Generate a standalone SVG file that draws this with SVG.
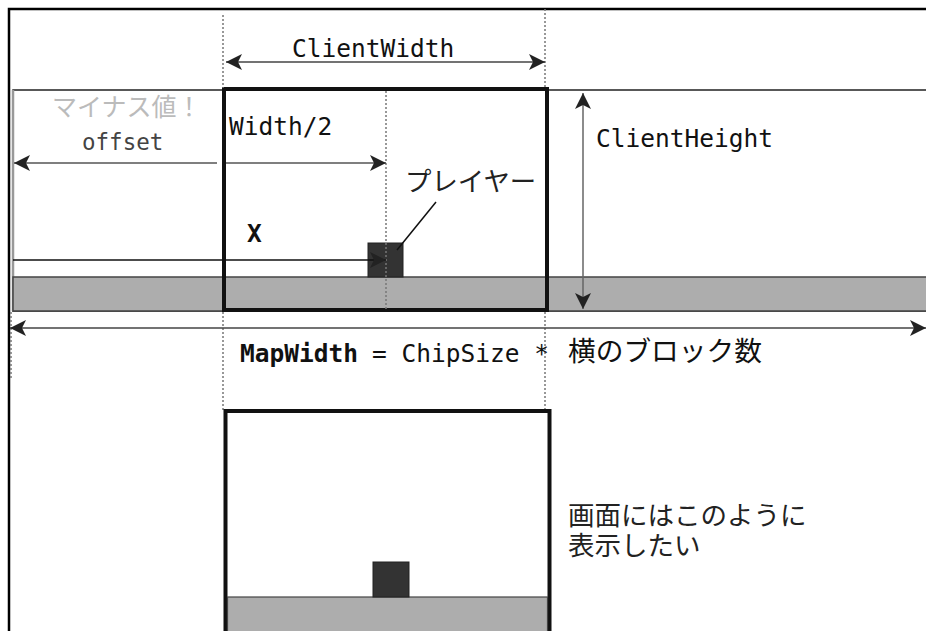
<svg xmlns="http://www.w3.org/2000/svg" width="926" height="631" viewBox="0 0 926 631">
<style>
.mono{font-family:"DejaVu Sans Mono","Noto Sans CJK JP",monospace;font-size:24.5px;fill:#111}
.jp{font-family:"Noto Sans CJK JP",sans-serif;fill:#222}
.note{font-family:"Liberation Sans","Noto Sans CJK JP",sans-serif;font-size:26.5px;fill:#222}
.dot{stroke:#777;stroke-width:1.5;stroke-dasharray:2,2;fill:none}
.arr{stroke-width:1.5;fill:none}
</style>
<defs>
<marker id="ah" markerUnits="userSpaceOnUse" markerWidth="18" markerHeight="18" refX="16" refY="8" orient="auto-start-reverse" viewBox="0 0 18 18">
<path d="M0,0 L16,8 L0,16 L4,8 z" fill="#222"/>
</marker>
</defs>
<rect width="926" height="631" fill="#fff"/>
<g id="frame">
<path d="M9,631 V9 H926" fill="none" stroke="#000" stroke-width="2.5"/>
</g>
<g id="map">
<rect x="13" y="90" width="920" height="221" fill="#fff" stroke="#222" stroke-width="1.5"/>
<line x1="13" y1="90" x2="13" y2="311" stroke="#999" stroke-width="2.5"/>
<rect x="13" y="277" width="920" height="34" fill="#adadad" stroke="#444" stroke-width="1.5"/>
</g>
<g id="player">
<rect x="368" y="243" width="35" height="34" fill="#333" stroke="#222" stroke-width="1"/>
</g>
<g id="client">
<rect x="224" y="89" width="323" height="221" fill="none" stroke="#111" stroke-width="4"/>
</g>
<g id="guides">
<line class="dot" x1="223" y1="15" x2="223" y2="88"/>
<line class="dot" x1="545" y1="9" x2="545" y2="88"/>
<line class="dot" x1="223" y1="312" x2="223" y2="410"/>
<line class="dot" x1="545" y1="312" x2="545" y2="410"/>
<line class="dot" x1="11" y1="312" x2="11" y2="380"/>
<line class="dot" x1="386" y1="91" x2="386" y2="310"/>
</g>
<g id="connectors">
<line class="arr" stroke="#444" x1="226" y1="62" x2="545" y2="62" marker-start="url(#ah)" marker-end="url(#ah)"/>
<line class="arr" stroke="#555" x1="226" y1="163" x2="386" y2="163" marker-end="url(#ah)"/>
<line class="arr" stroke="#555" x1="217" y1="163" x2="14" y2="163" marker-end="url(#ah)"/>
<line class="arr" stroke="#111" x1="13" y1="260" x2="386" y2="260" marker-end="url(#ah)"/>
<line class="arr" stroke="#666" x1="583" y1="93" x2="583" y2="309" marker-start="url(#ah)" marker-end="url(#ah)"/>
<line class="arr" stroke="#444" x1="10" y1="328" x2="926" y2="328" marker-start="url(#ah)" marker-end="url(#ah)"/>
<line stroke="#111" stroke-width="1.5" x1="436" y1="202" x2="397" y2="250"/>
</g>
<g id="labels">
<text class="mono" x="292" y="57">ClientWidth</text>
<text class="jp" x="52" y="116" font-size="25" style="fill:#bbb">マイナス値！</text>
<text class="mono" x="82" y="150" font-size="22.5" style="fill:#444;font-size:22.5px">offset</text>
<text class="mono" x="229" y="135">Width/2</text>
<text class="mono" x="247" y="242" font-weight="bold">X</text>
<text class="jp" x="405" y="191" font-size="26.4">プレイヤー</text>
<text class="mono" x="596" y="147">ClientHeight</text>
<text class="mono" x="240" y="362" font-weight="bold">MapWidth</text>
<text class="mono" x="372" y="362">= ChipSize *</text>
<text class="jp" x="568" y="361" font-size="27.7" style="fill:#111">横のブロック数</text>
</g>
<g id="screen">
<rect x="225.5" y="411" width="324" height="240" fill="#fff" stroke="#111" stroke-width="4"/>
<rect x="227.5" y="597" width="320" height="40" fill="#adadad" stroke="#444" stroke-width="1.2"/>
<rect x="373" y="562" width="36" height="35" fill="#333" stroke="#222" stroke-width="1"/>
</g>
<g id="note">
<text class="note" x="568" y="525">画面にはこのように</text>
<text class="note" x="568" y="555">表示したい</text>
</g>
</svg>
